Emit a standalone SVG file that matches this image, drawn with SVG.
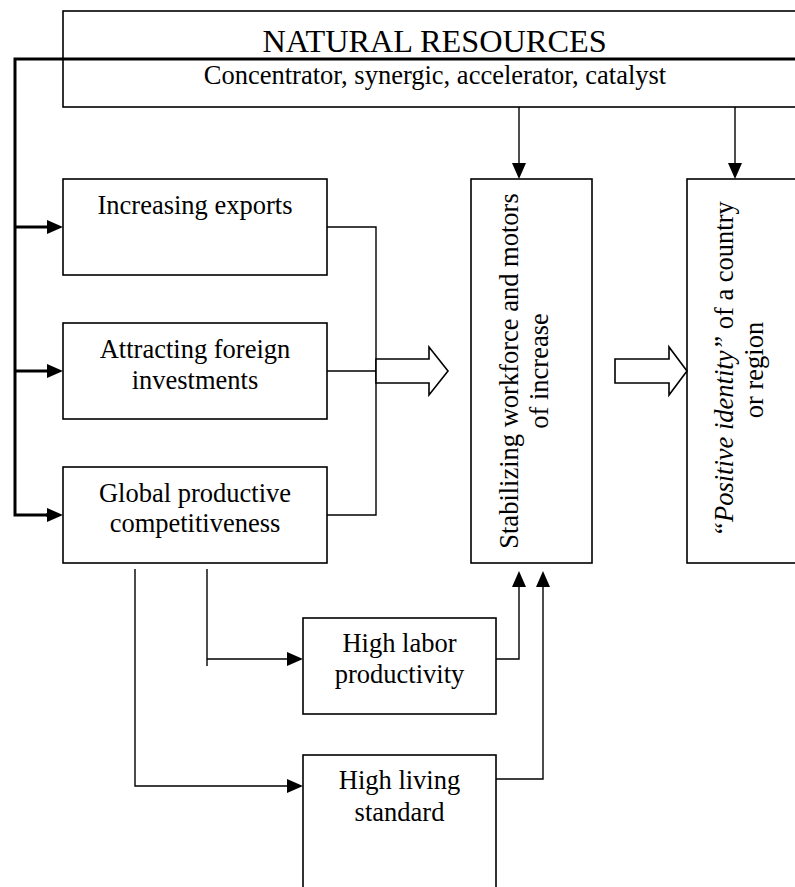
<svg xmlns="http://www.w3.org/2000/svg" width="795" height="887" viewBox="0 0 795 887">
<style>
  .box { fill: #fff; stroke: #000; stroke-width: 1.6; }
  .ln { fill: none; stroke: #000; stroke-width: 1.4; }
  .thick { fill: none; stroke: #000; stroke-width: 3; }
  .hollow { fill: #fff; stroke: #000; stroke-width: 1.6; stroke-linejoin: miter; }
  text { font-family: "Liberation Serif", "Times New Roman", serif; fill: #000; font-size: 26.5px; text-anchor: middle; }
  .title { font-size: 32.3px; }
</style>
<defs>
  <marker id="ah" markerUnits="userSpaceOnUse" markerWidth="16" markerHeight="14" refX="0" refY="7" orient="auto">
    <path d="M0,0 L16,7 L0,14 z" fill="#000"/>
  </marker>
</defs>

<g id="natural-resources">
  <rect class="box" x="63" y="11" width="760" height="96"/>
  <text class="title" x="434.5" y="51.5">NATURAL RESOURCES</text>
  <text x="435" y="84">Concentrator, synergic, accelerator, catalyst</text>
</g>

<g id="increasing-exports">
  <rect class="box" x="63" y="179" width="264" height="96"/>
  <text x="195" y="214">Increasing exports</text>
</g>

<g id="attracting-foreign-investments">
  <rect class="box" x="63" y="323" width="264" height="96"/>
  <text x="195" y="358">Attracting foreign</text>
  <text x="195" y="389">investments</text>
</g>

<g id="global-productive-competitiveness">
  <rect class="box" x="63" y="467" width="264" height="96"/>
  <text x="195" y="502">Global productive</text>
  <text x="195" y="532">competitiveness</text>
</g>

<g id="stabilizing-workforce">
  <rect class="box" x="471" y="179" width="121" height="384"/>
  <text transform="translate(518,371) rotate(-90)">Stabilizing workforce and motors</text>
  <text transform="translate(548,371) rotate(-90)">of increase</text>
</g>

<g id="positive-identity">
  <rect class="box" x="687" y="179" width="130" height="384"/>
  <text transform="translate(733,369) rotate(-90)"><tspan font-style="italic">“Positive identity”</tspan> of a country</text>
  <text transform="translate(763,370) rotate(-90)">or region</text>
</g>

<g id="high-labor-productivity">
  <rect class="box" x="303" y="618" width="193" height="96"/>
  <text x="399.5" y="652">High labor</text>
  <text x="399.5" y="683">productivity</text>
</g>

<g id="high-living-standard">
  <rect class="box" x="303" y="755" width="193" height="160"/>
  <text x="399.5" y="789">High living</text>
  <text x="399.5" y="821">standard</text>
</g>

<g id="connectors">
  <!-- thick bus from natural resources -->
  <path class="thick" d="M47,515 H15 V59 H800"/>
  <path class="thick" d="M15,227 H47" marker-end="url(#ah)"/>
  <path class="thick" d="M15,371 H47" marker-end="url(#ah)"/>
  <path class="thick" d="M46,515 H47" marker-end="url(#ah)"/>

  <!-- downward arrows from natural resources -->
  <path class="ln" d="M519,107 V163" marker-end="url(#ah)"/>
  <path class="ln" d="M735,107 V163" marker-end="url(#ah)"/>

  <!-- collector from left boxes -->
  <path class="ln" d="M327,227 H376 V515 H327"/>
  <path class="ln" d="M327,371 H376"/>

  <!-- hollow arrows -->
  <polygon class="hollow" points="376,359 429,359 429,347 448,371 429,395 429,383 376,383"/>
  <polygon class="hollow" points="615,359 669,359 669,347 687,371 669,395 669,383 615,383"/>

  <!-- from global productive competitiveness down -->
  <path class="ln" d="M207,569 V666"/>
  <path class="ln" d="M207,659 H287" marker-end="url(#ah)"/>
  <path class="ln" d="M135,569 V786 H287" marker-end="url(#ah)"/>

  <!-- up to stabilizing workforce -->
  <path class="ln" d="M496,659 H519 V587" marker-end="url(#ah)"/>
  <path class="ln" d="M496,779 H543 V587" marker-end="url(#ah)"/>
</g>
</svg>
